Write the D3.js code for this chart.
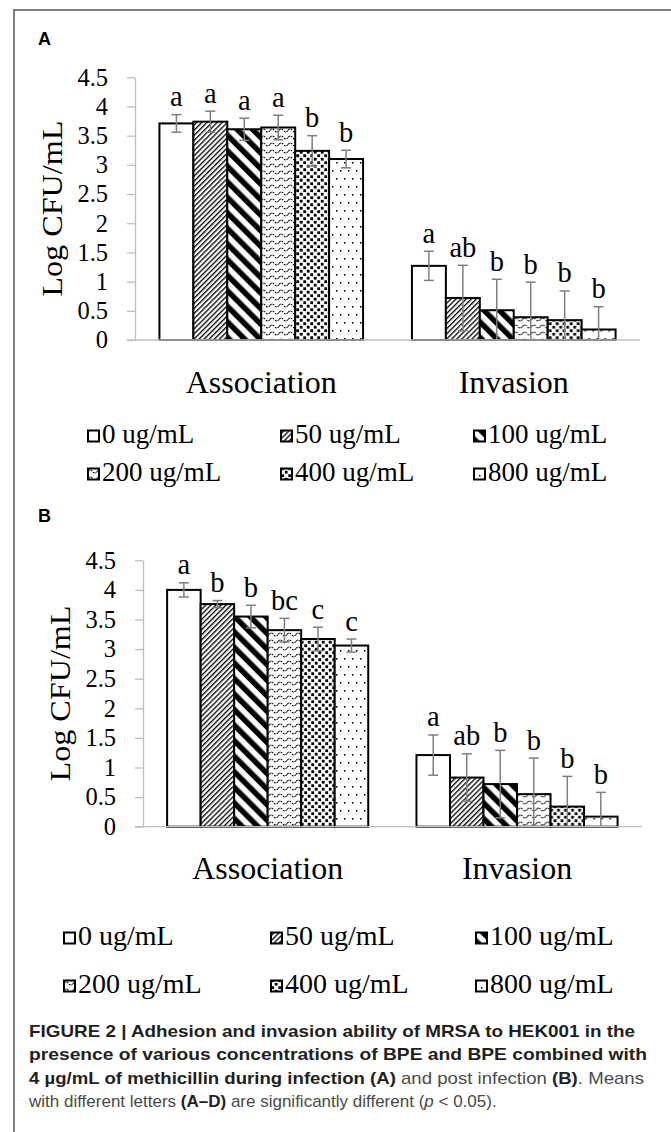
<!DOCTYPE html>
<html>
<head>
<meta charset="utf-8">
<script src="https://cdn.jsdelivr.net/npm/d3@7"></script>
<style>
  body { margin: 0; background: #fff; }
  svg { display: block; }
</style>
</head>
<body>
<svg id="fig" width="671" height="1132"></svg>
<script>
// ---- data ----
const categories = ["Association", "Invasion"];
const doses = ["0 ug/mL", "50 ug/mL", "100 ug/mL", "200 ug/mL", "400 ug/mL", "800 ug/mL"];
const yTicks = [0, 0.5, 1, 1.5, 2, 2.5, 3, 3.5, 4, 4.5];

// panel A (during infection)
const assocA    = [3.71, 3.74, 3.61, 3.64, 3.24, 3.10];
const assocErrA = [0.15, 0.18, 0.19, 0.21, 0.26, 0.15];
const assocLetA = ["a", "a", "a", "a", "b", "b"];
const invA      = [1.27, 0.72, 0.51, 0.39, 0.34, 0.18];
const invErrA   = [0.25, 0.56, 0.53, 0.60, 0.50, 0.39];
const invLetA   = ["a", "ab", "b", "b", "b", "b"];

// panel B (post infection)
const assocB    = [4.00, 3.76, 3.55, 3.32, 3.17, 3.06];
const assocErrB = [0.12, 0.06, 0.19, 0.20, 0.20, 0.11];
const assocLetB = ["a", "b", "b", "bc", "c", "c"];
const invB      = [1.21, 0.83, 0.72, 0.55, 0.34, 0.17];
const invErrB   = [0.34, 0.40, 0.57, 0.61, 0.51, 0.41];
const invLetB   = ["a", "ab", "b", "b", "b", "b"];

const serif = "'Liberation Serif', 'Times New Roman', serif";
const sans = "'Liberation Sans', Arial, Helvetica, sans-serif";

let svg = d3.select("#fig");

// outer frame (runs off the right / bottom edge)
svg.append("rect")
   .attr("x", 14).attr("y", 10)
   .attr("width", 720).attr("height", 1200)
   .attr("fill", "none")
   .attr("stroke", "#555")
   .attr("stroke-width", 1.5);

// ---- fill patterns, one per dose ----
let defs = svg.append("defs");

function addStripes(id, size, thick, angle){
  let p = defs.append("pattern")
    .attr("id", id)
    .attr("patternUnits", "userSpaceOnUse")
    .attr("width", size).attr("height", size)
    .attr("patternTransform", "rotate(" + angle + ")");
  p.append("rect").attr("width", size).attr("height", size).attr("fill", "white");
  p.append("rect").attr("width", thick).attr("height", size).attr("fill", "black");
}
addStripes("pat1", 3.6, 1.3, 45);    // 50: fine up diagonal
addStripes("pat2", 11, 5.5, -45);    // 100: wide down diagonal

// 200: small dotted waves
let wave = defs.append("pattern")
  .attr("id", "pat3").attr("patternUnits", "userSpaceOnUse")
  .attr("width", 9).attr("height", 7);
wave.append("rect").attr("width", 9).attr("height", 7).attr("fill", "white");
wave.append("path")
  .attr("d", "M0,4.5 Q2.25,1.5 4.5,4.5 T9,4.5")
  .attr("fill", "none").attr("stroke", "black")
  .attr("stroke-width", 1.1).attr("stroke-dasharray", "2,1");

// 400: staggered small squares
let conf = defs.append("pattern")
  .attr("id", "pat4").attr("patternUnits", "userSpaceOnUse")
  .attr("width", 7).attr("height", 7);
conf.append("rect").attr("width", 7).attr("height", 7).attr("fill", "white");
conf.append("rect").attr("x", 0.3).attr("y", 0.3).attr("width", 2.8).attr("height", 2.8).attr("fill", "black");
conf.append("rect").attr("x", 3.8).attr("y", 3.8).attr("width", 2.8).attr("height", 2.8).attr("fill", "black");

// 800: sparse dots
let dots = defs.append("pattern")
  .attr("id", "pat5").attr("patternUnits", "userSpaceOnUse")
  .attr("width", 8).attr("height", 16);
dots.append("rect").attr("width", 8).attr("height", 16).attr("fill", "white");
dots.append("rect").attr("x", 1).attr("y", 2).attr("width", 1.5).attr("height", 1.5).attr("fill", "black");
dots.append("rect").attr("x", 5).attr("y", 10).attr("width", 1.5).attr("height", 1.5).attr("fill", "black");

const fills = ["white", "url(#pat1)", "url(#pat2)", "url(#pat3)", "url(#pat4)", "url(#pat5)"];

// ---- one panel ----
function DrawPanel(cfg, series){
  let g = svg.append("g");

  g.append("text")
   .attr("x", cfg.labelX).attr("y", cfg.labelY)
   .attr("font-family", sans).attr("font-weight", "bold")
   .attr("font-size", 18)
   .text(cfg.label);

  let scaleY = d3.scaleLinear().domain([0, 4.5]).range([cfg.bottom, cfg.top]);
  let scaleX0 = d3.scaleBand().domain(categories).range([cfg.left, cfg.right]).padding(0);
  let scaleX1 = d3.scaleBand().domain(doses)
                  .range([0, scaleX0.bandwidth()])
                  .paddingInner(0).paddingOuter(0.72);

  // y axis
  let yaxis = g.append("g")
    .attr("transform", "translate(" + cfg.left + ",0)")
    .call(d3.axisLeft(scaleY).tickValues(yTicks)
            .tickFormat(d3.format(""))
            .tickSize(8).tickSizeOuter(0).tickPadding(19));
  yaxis.select(".domain").attr("stroke", "#bfbfbf").attr("stroke-width", 1.3);
  yaxis.selectAll(".tick line").attr("stroke", "#bfbfbf").attr("stroke-width", 1.3);
  yaxis.selectAll("text")
       .attr("font-family", serif).attr("font-size", 24.5).attr("fill", "#000");

  g.append("text")
   .attr("transform", "translate(" + (cfg.left - 84) + "," + ((cfg.top + cfg.bottom) / 2) + ") rotate(-90)")
   .attr("text-anchor", "middle")
   .attr("dy", "0.35em")
   .attr("font-family", serif).attr("font-size", 30)
   .attr("textLength", 176).attr("lengthAdjust", "spacingAndGlyphs")
   .text("Log CFU/mL");

  // category labels
  let xaxis = g.append("g")
    .attr("transform", "translate(0," + cfg.bottom + ")")
    .call(d3.axisBottom(scaleX0).tickSize(0).tickPadding(cfg.catPad));
  xaxis.select(".domain").remove();
  xaxis.selectAll("text")
       .attr("font-family", serif).attr("font-size", 32).attr("fill", "#000");

  // bars
  let groups = g.selectAll("g.cat")
    .data(series)
    .enter().append("g")
    .attr("class", "cat")
    .attr("transform", (d) => "translate(" + scaleX0(d.cat) + ",0)");

  let rows = groups.selectAll("g.bar")
    .data((d) => d.values.map((v, i) => ({dose: doses[i], i: i, v: v, e: d.errs[i], l: d.letters[i]})))
    .enter().append("g").attr("class", "bar");

  rows.append("rect")
    .attr("x", (d) => scaleX1(d.dose))
    .attr("y", (d) => scaleY(d.v))
    .attr("width", scaleX1.bandwidth())
    .attr("height", (d) => scaleY(0) - scaleY(d.v))
    .attr("fill", (d) => fills[d.i])
    .attr("stroke", "black")
    .attr("stroke-width", 2);

  // error bars
  let cx = (d) => scaleX1(d.dose) + scaleX1.bandwidth() / 2;
  rows.append("line")
    .attr("x1", cx).attr("x2", cx)
    .attr("y1", (d) => scaleY(d.v + d.e))
    .attr("y2", (d) => scaleY(Math.max(0, d.v - d.e)))
    .attr("stroke", "#7f7f7f").attr("stroke-width", 1.5);
  rows.append("line")
    .attr("x1", (d) => cx(d) - 5).attr("x2", (d) => cx(d) + 5)
    .attr("y1", (d) => scaleY(d.v + d.e)).attr("y2", (d) => scaleY(d.v + d.e))
    .attr("stroke", "#7f7f7f").attr("stroke-width", 1.5);
  rows.filter((d) => d.v - d.e > 0).append("line")
    .attr("x1", (d) => cx(d) - 5).attr("x2", (d) => cx(d) + 5)
    .attr("y1", (d) => scaleY(d.v - d.e)).attr("y2", (d) => scaleY(d.v - d.e))
    .attr("stroke", "#7f7f7f").attr("stroke-width", 1.5);

  // significance letters
  rows.append("text")
    .attr("x", cx)
    .attr("y", (d) => scaleY(d.v + d.e) - 8.5)
    .attr("text-anchor", "middle")
    .attr("font-family", serif).attr("font-size", 28.5)
    .text((d) => d.l);

  // x axis line
  g.append("line")
   .attr("x1", cfg.left - 8).attr("x2", cfg.right)
   .attr("y1", cfg.bottom).attr("y2", cfg.bottom)
   .attr("stroke", "#bfbfbf").attr("stroke-width", 1.3);

  // legend, 3 columns x 2 rows
  let leg = g.selectAll("g.leg")
    .data(doses)
    .enter().append("g")
    .attr("class", "leg")
    .attr("transform", (d, i) => "translate(" + cfg.legCols[i % 3] + "," + cfg.legRows[Math.floor(i / 3)] + ")");
  leg.append("rect")
    .attr("x", 0).attr("y", -12.5)
    .attr("width", 11).attr("height", 11)
    .attr("fill", (d, i) => fills[i])
    .attr("stroke", "black").attr("stroke-width", 2);
  leg.append("text")
    .attr("x", 14).attr("y", 0)
    .attr("font-family", serif).attr("font-size", cfg.legFont)
    .text((d) => d);
}

DrawPanel({label: "A", labelX: 38, labelY: 45,
           left: 135, right: 640, top: 77.3, bottom: 340, catPad: 30,
           legCols: [88, 281, 474], legRows: [443, 481], legFont: 27},
          [{cat: categories[0], values: assocA, errs: assocErrA, letters: assocLetA},
           {cat: categories[1], values: invA, errs: invErrA, letters: invLetA}]);

DrawPanel({label: "B", labelX: 38, labelY: 522,
           left: 143, right: 641.7, top: 560.3, bottom: 826.7, catPad: 30,
           legCols: [64, 271, 476], legRows: [945, 993], legFont: 28},
          [{cat: categories[0], values: assocB, errs: assocErrB, letters: assocLetB},
           {cat: categories[1], values: invB, errs: invErrB, letters: invLetB}]);

// ---- caption ----
const capLines = [
  [["FIGURE 2 | Adhesion and invasion ability of MRSA to HEK001 in the", "b"]],
  [["presence of various concentrations of BPE and BPE combined with", "b"]],
  [["4 \u00b5g/mL of methicillin during infection ", "b"], ["(A)", "b"], [" and post infection ", "n"], ["(B)", "b"], [". Means", "n"]],
  [["with different letters ", "n"], ["(A\u2013D)", "b"], [" are significantly different (", "n"], ["p", "i"], [" < 0.05).", "n"]]
];
const capWidths = [606, 618, 615, null];

let cap = svg.append("g");
capLines.forEach(function(parts, k){
  let t = cap.append("text")
    .attr("x", 29).attr("y", 1037 + k * 23.3)
    .attr("font-family", sans).attr("font-size", 17);
  if(capWidths[k] !== null)
    t.attr("textLength", capWidths[k]).attr("lengthAdjust", "spacingAndGlyphs");
  parts.forEach(function(p){
    t.append("tspan")
     .attr("font-weight", p[1] === "b" ? "bold" : "normal")
     .attr("font-style", p[1] === "i" ? "italic" : "normal")
     .attr("fill", p[1] === "b" ? "#231f20" : "#4a4a4a")
     .text(p[0]);
  });
});
</script>
</body>
</html>
